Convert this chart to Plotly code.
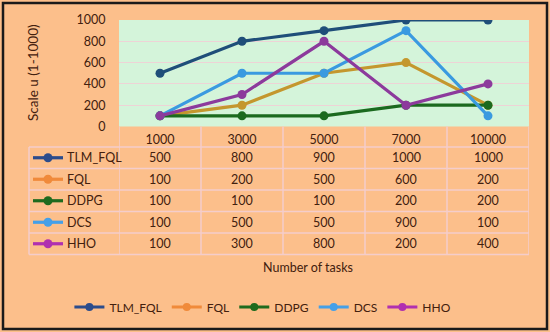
import plotly.graph_objects as go

categories = ['1000', '3000', '5000', '7000', '10000']
series_names = ['TLM_FQL', 'FQL', 'DDPG', 'DCS', 'HHO']
tlm_fql = [500, 800, 900, 1000, 1000]
fql = [100, 200, 500, 600, 200]
ddpg = [100, 100, 100, 200, 200]
dcs = [100, 500, 500, 900, 100]
hho = [100, 300, 800, 200, 400]
series_values = [tlm_fql, fql, ddpg, dcs, hho]
y_ticks = [0, 200, 400, 600, 800, 1000]

plot_colors = ['#1F4E79', '#C4972E', '#1B6A1F', '#3A9AE0', '#8C3A9C']
legend_colors = ['#2B4C8C', '#F08A3A', '#1E6B1E', '#45A0E8', '#B030B0']

W, H = 550, 332
TXT = '#42200E'
FONT = 'Lato'
GRID = '#EED3D6'
TBL = '#F4CDCB'

def px(x):
    return x / W

def py(y):
    return 1 - y / H

plot_left, plot_right, plot_top, plot_bottom = 119, 529, 20, 126.5
table_left = 29
row_h = 21.5
header_bottom = plot_bottom + 20.5

fig = go.Figure()

for name, vals, col in zip(series_names, series_values, plot_colors):
    fig.add_trace(go.Scatter(
        x=categories, y=vals, name=name, mode='lines+markers',
        line=dict(color=col, width=3.2),
        marker=dict(color=col, size=9),
        showlegend=False))

# legend-only traces
for name, col in zip(series_names, legend_colors):
    fig.add_trace(go.Scatter(
        x=[None], y=[None], name=name, mode='lines+markers',
        line=dict(color=col, width=3.2), marker=dict(color=col, size=8),
        showlegend=True))

shapes = []
annotations = []

def ann(x, y, text, xref='paper', xanchor='center', angle=0, size=12.5):
    annotations.append(dict(x=x, y=y, xref=xref, yref='paper', text=text, showarrow=False,
                            xanchor=xanchor, yanchor='middle', textangle=angle,
                            font=dict(size=size, color=TXT, family=FONT)))

# table rows
for i, (name, vals, col) in enumerate(zip(series_names, series_values, legend_colors)):
    yc = header_bottom + row_h * (i + 0.5)
    shapes.append(dict(type='line', xref='paper', yref='paper', x0=px(33), x1=px(63),
                       y0=py(yc), y1=py(yc), line=dict(color=col, width=3.2)))
    shapes.append(dict(type='circle', xref='paper', yref='paper', x0=px(43.5), x1=px(52.5),
                       y0=py(yc + 4.5), y1=py(yc - 4.5), fillcolor=col, line=dict(color=col, width=0)))
    ann(px(65), py(yc), name, xanchor='left')
    for j, v in enumerate(vals):
        ann(j, py(yc), str(v), xref='x')

# table horizontal lines
for i in range(len(series_names) + 1):
    yl = header_bottom + row_h * i
    shapes.append(dict(type='line', xref='paper', yref='paper',
                       x0=px(table_left), x1=px(plot_right), y0=py(yl), y1=py(yl),
                       line=dict(color=TBL, width=1.5)))
table_bottom = header_bottom + row_h * len(series_names)
# vertical lines
shapes.append(dict(type='line', xref='paper', yref='paper', x0=px(table_left), x1=px(table_left),
                   y0=py(header_bottom), y1=py(table_bottom), line=dict(color=TBL, width=1.5)))
for k in range(len(categories) + 1):
    shapes.append(dict(type='line', xref='x', yref='paper', x0=k - 0.5, x1=k - 0.5,
                       y0=py(plot_bottom), y1=py(table_bottom), line=dict(color=TBL, width=1.5)))

# outer border
shapes.append(dict(type='rect', xref='paper', yref='paper', x0=px(3), x1=px(547), y0=py(329), y1=py(3),
                   line=dict(color='#1A1A1A', width=2.5)))

ann(px(308), py(267), 'Number of tasks')
ann(px(33), py(73), 'Scale u (1-1000)', angle=-90, size=13.5)

fig.update_layout(
    width=W, height=H,
    margin=dict(l=0, r=0, t=0, b=0, autoexpand=False),
    paper_bgcolor='#FCBF8B', plot_bgcolor='#D4F4DA',
    font=dict(family=FONT, size=12, color=TXT),
    xaxis=dict(domain=[px(plot_left), px(plot_right)], type='category',
               categoryorder='array', categoryarray=categories,
               range=[-0.5, len(categories) - 0.5], automargin=False,
               showgrid=False, zeroline=False, showline=False,
               ticks='outside', ticklen=1, tickcolor='rgba(0,0,0,0)',
               tickfont=dict(size=12.5, color=TXT, family=FONT)),
    yaxis=dict(domain=[py(plot_bottom), py(plot_top)], range=[0, 1000], automargin=False,
               tickvals=y_ticks, showgrid=True, gridcolor=GRID, gridwidth=1,
               zeroline=False, showline=False,
               ticks='outside', ticklen=10, tickcolor='rgba(0,0,0,0)',
               tickfont=dict(size=12.5, color=TXT, family=FONT)),
    legend=dict(orientation='h', x=0.478, xanchor='center', y=py(307), yanchor='middle',
                font=dict(size=12, color=TXT, family=FONT), bgcolor='rgba(0,0,0,0)'),
    shapes=shapes, annotations=annotations,
    showlegend=True,
)

fig.write_html('out.html', config={'displayModeBar': False},
               post_script="document.body.style.margin='0';document.body.style.overflow='hidden';")
